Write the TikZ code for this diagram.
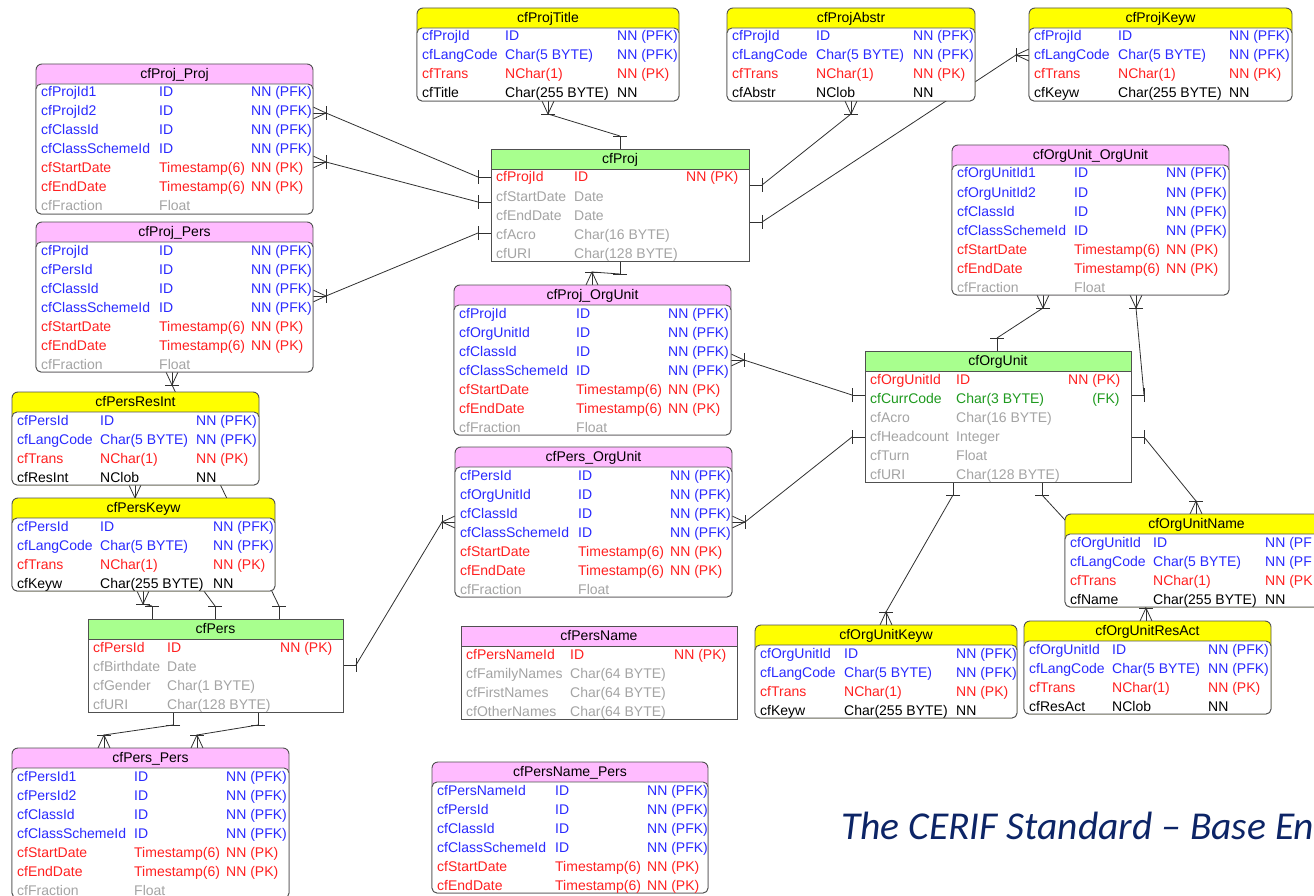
\documentclass[tikz,border=0pt]{standalone}
\usepackage{fontspec}
\setmainfont{Liberation Sans}
\newfontfamily\captionfont[Ligatures=TeX]{Carlito}
\usetikzlibrary{calc}
\pgfdeclarelayer{background}
\pgfsetlayers{background,main}

\definecolor{entyellow}{HTML}{FFFF00}
\definecolor{entpink}{HTML}{FFBBFF}
\definecolor{entgreen}{HTML}{A8FF8E}
\definecolor{entline}{HTML}{505050}
\definecolor{connline}{HTML}{303030}
\definecolor{colpfk}{HTML}{2A2AFF}
\definecolor{colpk}{HTML}{FF2020}
\definecolor{colfk}{HTML}{1E9A1E}
\definecolor{colopt}{HTML}{A4A4A4}
\definecolor{colatt}{HTML}{000000}
\definecolor{captionblue}{HTML}{0C2466}

\tikzset{
  entfont/.style={font=\fontsize{14}{16}\selectfont},
  softent/.style={draw=entline, line width=0.9pt, rounded corners=6pt, inner sep=0pt, outer sep=0pt},
  hardent/.style={draw=entline, line width=0.9pt, inner sep=0pt, outer sep=0pt},
  softent body/.style={draw=entline, line width=0.9pt, fill=white, rounded corners=5pt},
  hardent body/.style={draw=entline, line width=0.9pt, fill=white},
  enttitle/.style={entfont, inner sep=0pt, text height=10pt, text depth=0pt},
  field/.style={entfont, anchor=west, inner sep=0pt, text height=10pt, text depth=0pt, text=col#1},
  conn/.style={draw=connline, line width=0.8pt},
  pics/one/.style={code={
    \draw[conn] (0,0) -- (13,0) coordinate (-end);
    \draw[conn] (13,-7) -- (13,7);
  }},
  pics/many/.style={code={
    \draw[conn] (0,-6) -- (13,0) -- (0,6);
    \draw[conn] (0,0) -- (13,0) coordinate (-end);
    \draw[conn] (13,-7) -- (13,7);
  }},
}

% table frame: name, style, header colour, top left, width, rows, title
\newcommand{\entity}[7]{%
  \node[#2, fill=#3, anchor=north west, minimum width=#5pt,
        minimum height={(17+19*#6)*1pt}] (#1) at #4 {};
  \path[#2 body] ($(#1.north west)+(0,20)$) rectangle (#1.south east);
  \node[enttitle] (#1-title) at ($(#1.north)+(0,9.5)$) {#7};
}
% table rows: name, 2nd column, 3rd column, name/type/null/kind list
\newcommand{\entrows}[4]{%
  \foreach \rowname/\rowtype/\rownull/\rowkind [count=\rowno from 0] in {#4} {
    \node[field=\rowkind] (#1-\rowno-a) at ($(#1.north west)+(5,28+19*\rowno)$) {\rowname};
    \node[field=\rowkind] (#1-\rowno-b) at ($(#1.north west)+(#2,28+19*\rowno)$) {\rowtype};
    \node[field=\rowkind] (#1-\rowno-c) at ($(#1.north west)+(#3,28+19*\rowno)$) {\rownull};
  }
}
% relation: id, kind, angle, point / kind, angle, point
\newcommand{\relate}[7]{%
  \pic[rotate=#3] (#1a) at #4 {#2};
  \pic[rotate=#6] (#1b) at #7 {#5};
  \draw[conn] (#1a-end) -- (#1b-end);
}

\begin{document}
\begin{tikzpicture}[x=1pt,y=-1pt]
\useasboundingbox (0,0) rectangle (1314,896);
\clip (0,0) rectangle (1314,896);

% language tables of cfProj
\entity{projtitle}{softent}{entyellow}{(417,8)}{262}{4}{cfProjTitle}
\entrows{projtitle}{88}{200}{cfProjId/ID/NN (PFK)/pfk, cfLangCode/Char(5 BYTE)/NN (PFK)/pfk,
  cfTrans/NChar(1)/NN (PK)/pk, cfTitle/Char(255 BYTE)/NN/att}
\entity{projabstr}{softent}{entyellow}{(727,8)}{248}{4}{cfProjAbstr}
\entrows{projabstr}{89}{186}{cfProjId/ID/NN (PFK)/pfk, cfLangCode/Char(5 BYTE)/NN (PFK)/pfk,
  cfTrans/NChar(1)/NN (PK)/pk, cfAbstr/NClob/NN/att}
\entity{projkeyw}{softent}{entyellow}{(1029,8)}{263}{4}{cfProjKeyw}
\entrows{projkeyw}{89}{200}{cfProjId/ID/NN (PFK)/pfk, cfLangCode/Char(5 BYTE)/NN (PFK)/pfk,
  cfTrans/NChar(1)/NN (PK)/pk, cfKeyw/Char(255 BYTE)/NN/att}

% link tables
\entity{projproj}{softent}{entpink}{(36,64)}{277}{7}{cfProj\_Proj}
\entrows{projproj}{123}{215}{cfProjId1/ID/NN (PFK)/pfk, cfProjId2/ID/NN (PFK)/pfk,
  cfClassId/ID/NN (PFK)/pfk, cfClassSchemeId/ID/NN (PFK)/pfk,
  cfStartDate/Timestamp(6)/NN (PK)/pk, cfEndDate/Timestamp(6)/NN (PK)/pk, cfFraction/Float//opt}
\entity{projpers}{softent}{entpink}{(36,222)}{277}{7}{cfProj\_Pers}
\entrows{projpers}{123}{215}{cfProjId/ID/NN (PFK)/pfk, cfPersId/ID/NN (PFK)/pfk,
  cfClassId/ID/NN (PFK)/pfk, cfClassSchemeId/ID/NN (PFK)/pfk,
  cfStartDate/Timestamp(6)/NN (PK)/pk, cfEndDate/Timestamp(6)/NN (PK)/pk, cfFraction/Float//opt}
\entity{ouou}{softent}{entpink}{(952,145)}{277}{7}{cfOrgUnit\_OrgUnit}
\entrows{ouou}{122}{214}{cfOrgUnitId1/ID/NN (PFK)/pfk, cfOrgUnitId2/ID/NN (PFK)/pfk,
  cfClassId/ID/NN (PFK)/pfk, cfClassSchemeId/ID/NN (PFK)/pfk,
  cfStartDate/Timestamp(6)/NN (PK)/pk, cfEndDate/Timestamp(6)/NN (PK)/pk, cfFraction/Float//opt}
\entity{projou}{softent}{entpink}{(454,285)}{277}{7}{cfProj\_OrgUnit}
\entrows{projou}{122}{214}{cfProjId/ID/NN (PFK)/pfk, cfOrgUnitId/ID/NN (PFK)/pfk,
  cfClassId/ID/NN (PFK)/pfk, cfClassSchemeId/ID/NN (PFK)/pfk,
  cfStartDate/Timestamp(6)/NN (PK)/pk, cfEndDate/Timestamp(6)/NN (PK)/pk, cfFraction/Float//opt}
\entity{persou}{softent}{entpink}{(455,447)}{277}{7}{cfPers\_OrgUnit}
\entrows{persou}{123}{215}{cfPersId/ID/NN (PFK)/pfk, cfOrgUnitId/ID/NN (PFK)/pfk,
  cfClassId/ID/NN (PFK)/pfk, cfClassSchemeId/ID/NN (PFK)/pfk,
  cfStartDate/Timestamp(6)/NN (PK)/pk, cfEndDate/Timestamp(6)/NN (PK)/pk, cfFraction/Float//opt}
\entity{perspers}{softent}{entpink}{(12,748)}{277}{7}{cfPers\_Pers}
\entrows{perspers}{122}{214}{cfPersId1/ID/NN (PFK)/pfk, cfPersId2/ID/NN (PFK)/pfk,
  cfClassId/ID/NN (PFK)/pfk, cfClassSchemeId/ID/NN (PFK)/pfk,
  cfStartDate/Timestamp(6)/NN (PK)/pk, cfEndDate/Timestamp(6)/NN (PK)/pk, cfFraction/Float//opt}
\entity{persnamepers}{softent}{entpink}{(432,762)}{276}{6}{cfPersName\_Pers}
\entrows{persnamepers}{123}{215}{cfPersNameId/ID/NN (PFK)/pfk, cfPersId/ID/NN (PFK)/pfk,
  cfClassId/ID/NN (PFK)/pfk, cfClassSchemeId/ID/NN (PFK)/pfk,
  cfStartDate/Timestamp(6)/NN (PK)/pk, cfEndDate/Timestamp(6)/NN (PK)/pk}

% base entities
\entity{proj}{hardent}{entgreen}{(491,149)}{258}{5}{cfProj}
\entrows{proj}{83}{195}{cfProjId/ID/NN (PK)/pk, cfStartDate/Date//opt, cfEndDate/Date//opt,
  cfAcro/Char(16 BYTE)//opt, cfURI/Char(128 BYTE)//opt}
\entity{orgunit}{hardent}{entgreen}{(865,351)}{266}{6}{cfOrgUnit}
\entrows{orgunit}{91}{203}{cfOrgUnitId/ID/NN (PK)/pk, cfCurrCode/Char(3 BYTE)/\phantom{NN }(FK)/fk,
  cfAcro/Char(16 BYTE)//opt, cfHeadcount/Integer//opt, cfTurn/Float//opt, cfURI/Char(128 BYTE)//opt}
\entity{pers}{hardent}{entgreen}{(88,619)}{255}{4}{cfPers}
\entrows{pers}{79}{192}{cfPersId/ID/NN (PK)/pk, cfBirthdate/Date//opt, cfGender/Char(1 BYTE)//opt,
  cfURI/Char(128 BYTE)//opt}
\entity{persname}{hardent}{entpink}{(461,626)}{276}{4}{cfPersName}
\entrows{persname}{109}{213}{cfPersNameId/ID/NN (PK)/pk, cfFamilyNames/Char(64 BYTE)//opt,
  cfFirstNames/Char(64 BYTE)//opt, cfOtherNames/Char(64 BYTE)//opt}

% language tables of cfPers and cfOrgUnit
\entity{persresint}{softent}{entyellow}{(12,392)}{247}{4}{cfPersResInt}
\entrows{persresint}{88}{184}{cfPersId/ID/NN (PFK)/pfk, cfLangCode/Char(5 BYTE)/NN (PFK)/pfk,
  cfTrans/NChar(1)/NN (PK)/pk, cfResInt/NClob/NN/att}
\entity{perskeyw}{softent}{entyellow}{(12,498)}{263}{4}{cfPersKeyw}
\entrows{perskeyw}{88}{201}{cfPersId/ID/NN (PFK)/pfk, cfLangCode/Char(5 BYTE)/NN (PFK)/pfk,
  cfTrans/NChar(1)/NN (PK)/pk, cfKeyw/Char(255 BYTE)/NN/att}
\entity{ouname}{softent}{entyellow}{(1065,514)}{263}{4}{cfOrgUnitName}
\entrows{ouname}{88}{200}{cfOrgUnitId/ID/NN (PF/pfk, cfLangCode/Char(5 BYTE)/NN (PF/pfk,
  cfTrans/NChar(1)/NN (PK/pk, cfName/Char(255 BYTE)/NN/att}
\entity{oukeyw}{softent}{entyellow}{(755,625)}{262}{4}{cfOrgUnitKeyw}
\entrows{oukeyw}{89}{201}{cfOrgUnitId/ID/NN (PFK)/pfk, cfLangCode/Char(5 BYTE)/NN (PFK)/pfk,
  cfTrans/NChar(1)/NN (PK)/pk, cfKeyw/Char(255 BYTE)/NN/att}
\entity{ouresact}{softent}{entyellow}{(1024,621)}{247}{4}{cfOrgUnitResAct}
\entrows{ouresact}{88}{184}{cfOrgUnitId/ID/NN (PFK)/pfk, cfLangCode/Char(5 BYTE)/NN (PFK)/pfk,
  cfTrans/NChar(1)/NN (PK)/pk, cfResAct/NClob/NN/att}

\node[anchor=base west, inner sep=0pt, text=captionblue,
      font=\captionfont\itshape\fontsize{39.5}{42}\selectfont] (caption) at (841,839)
  {The CERIF Standard – Base En};

\begin{pgfonlayer}{background}
\relate{c1}{many}{270}{($(projtitle.south west)+(131,0)$)}{one}{90}{($(proj.north west)+(129,0)$)}
\relate{c2}{many}{270}{($(projabstr.south west)+(124,0)$)}{one}{0}{($(proj.north east)+(0,36)$)}
\relate{c3}{many}{180}{($(projkeyw.north west)+(0,47)$)}{one}{0}{($(proj.north east)+(0,73)$)}
\relate{c4}{many}{0}{($(projproj.north east)+(0,49)$)}{one}{180}{($(proj.north west)+(0,28)$)}
\relate{c5}{many}{0}{($(projproj.north east)+(0,98)$)}{one}{180}{($(proj.north west)+(0,53)$)}
\relate{c6}{many}{0}{($(projpers.north east)+(0,74)$)}{one}{180}{($(proj.north west)+(0,84)$)}
\relate{c7}{one}{270}{($(proj.south west)+(129,0)$)}{many}{90}{($(projou.north west)+(138,0)$)}
\relate{c8}{many}{0}{($(projou.north east)+(0,75)$)}{one}{180}{($(orgunit.north west)+(0,44)$)}
\relate{c9}{many}{0}{($(persou.north east)+(0,75)$)}{one}{180}{($(orgunit.north west)+(0,86)$)}
\relate{c10}{many}{270}{($(ouou.south west)+(91,0)$)}{one}{90}{($(orgunit.north west)+(132,0)$)}
\relate{c11}{many}{270}{($(ouou.south west)+(184,0)$)}{one}{0}{($(orgunit.north east)+(0,44)$)}
\relate{c12}{one}{0}{($(orgunit.north east)+(0,86)$)}{many}{90}{($(ouname.north west)+(131,0)$)}
\relate{c13}{one}{270}{($(orgunit.south west)+(88,0)$)}{many}{90}{($(oukeyw.north west)+(131,0)$)}
\relate{c14}{one}{270}{($(orgunit.south west)+(177,0)$)}{many}{90}{($(ouresact.north west)+(122,0)$)}
\relate{c15}{many}{270}{($(projpers.south west)+(136,0)$)}{one}{90}{($(pers.north west)+(191,0)$)}
\relate{c16}{many}{270}{($(persresint.south west)+(123,0)$)}{one}{90}{($(pers.north west)+(127,0)$)}
\relate{c17}{many}{270}{($(perskeyw.south west)+(131,0)$)}{one}{90}{($(pers.north west)+(64,0)$)}
\relate{c18}{one}{0}{($(pers.north east)+(0,46)$)}{many}{180}{($(persou.north west)+(0,75)$)}
\relate{c19}{one}{270}{($(pers.south west)+(85,0)$)}{many}{90}{($(perspers.north west)+(92,0)$)}
\relate{c20}{one}{270}{($(pers.south west)+(170,0)$)}{many}{90}{($(perspers.north west)+(185,0)$)}
\end{pgfonlayer}
\end{tikzpicture}
\end{document}
